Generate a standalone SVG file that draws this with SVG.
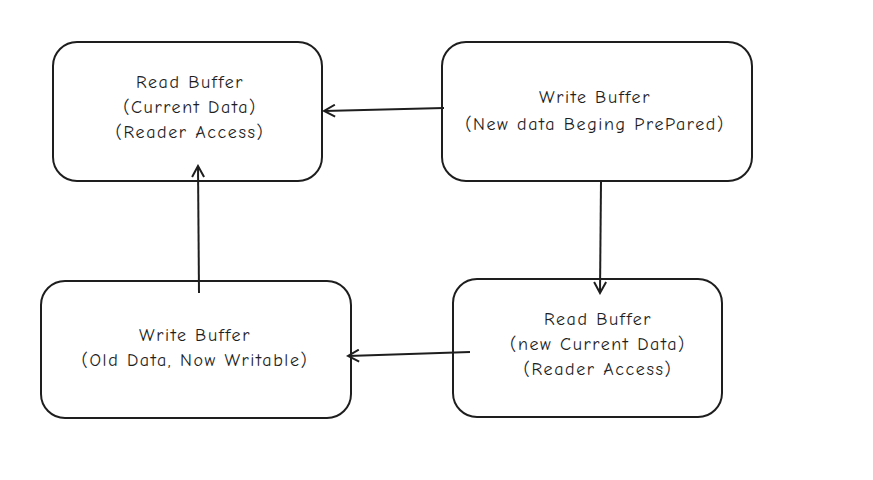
<svg xmlns="http://www.w3.org/2000/svg" width="873" height="480" viewBox="0 0 873 480">
<style>
.b{fill:#fff;stroke:#1e1e1e;stroke-width:2}
.t{font-family:"Comic Neue","Liberation Sans",sans-serif;font-size:18px;letter-spacing:1.6px;fill:#1e1e1e;text-anchor:middle}
.c{stroke:#1e1e1e;stroke-width:2;fill:none;marker-end:url(#a)}
</style>
<defs><marker id="a" markerWidth="14" markerHeight="14" refX="12" refY="7" orient="auto" markerUnits="userSpaceOnUse"><path d="M1,1 L12,7 L1,13" fill="none" stroke="#1e1e1e" stroke-width="2"/></marker></defs>
<rect width="873" height="480" fill="#fff"/>
<g id="n1"><rect class="b" x="53" y="42" width="269" height="139" rx="24"/>
<text class="t" x="190" y="88">Read Buffer</text><text class="t" x="190" y="113">(Current Data)</text><text class="t" x="190" y="138">(Reader Access)</text></g>
<g id="n2"><rect class="b" x="442" y="42" width="310" height="139" rx="24"/>
<text class="t" x="595" y="103">Write Buffer</text><text class="t" x="595" y="130">(New data Beging PrePared)</text></g>
<g id="n3"><rect class="b" x="453" y="279" width="269" height="138" rx="24"/>
<text class="t" x="598" y="325">Read Buffer</text><text class="t" x="598" y="350">(new Current Data)</text><text class="t" x="598" y="375">(Reader Access)</text></g>
<g id="n4"><rect class="b" x="41" y="281" width="310" height="137" rx="24"/>
<text class="t" x="195" y="341">Write Buffer</text><text class="t" x="195" y="366">(Old Data, Now Writable)</text></g>
<g id="connectors">
<path class="c" d="M444,108 L324,111"/>
<path class="c" d="M601,181 L600,293"/>
<path class="c" d="M470,352 L348,356"/>
<path class="c" d="M199,293 L198,166"/>
</g>
</svg>
